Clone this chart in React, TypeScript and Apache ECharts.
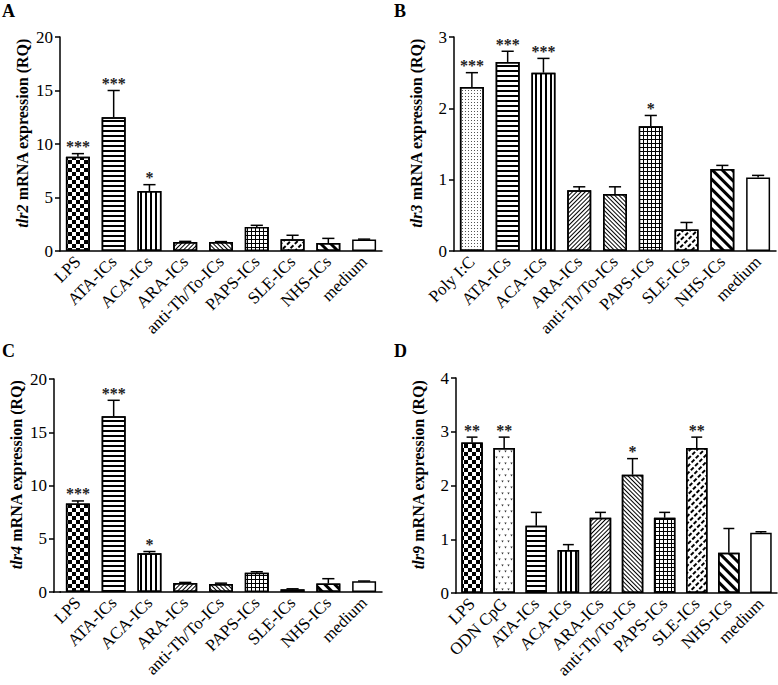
import React, { useEffect, useRef } from "react";
import * as echarts from "echarts";

const FONT = "'Liberation Serif', 'Times New Roman', serif";

// ---- Panel A: tlr2 ----
const catsA = ["LPS", "ATA-ICs", "ACA-ICs", "ARA-ICs", "anti-Th/To-ICs", "PAPS-ICs", "SLE-ICs", "NHS-ICs", "medium"];
const meanA = [8.8, 12.5, 5.6, 0.85, 0.85, 2.25, 1.1, 0.75, 1.07];
const errA = [0.3, 2.5, 0.6, 0.05, 0.03, 0.15, 0.37, 0.43, 0.04];
const starsA = ["***", "***", "*", "", "", "", "", "", ""];
const ticksA = { max: 20, interval: 5 };

// ---- Panel B: tlr3 ----
const catsB = ["Poly I:C", "ATA-ICs", "ACA-ICs", "ARA-ICs", "anti-Th/To-ICs", "PAPS-ICs", "SLE-ICs", "NHS-ICs", "medium"];
const meanB = [2.3, 2.65, 2.5, 0.85, 0.8, 1.75, 0.3, 1.15, 1.03];
const errB = [0.2, 0.15, 0.2, 0.05, 0.1, 0.15, 0.1, 0.05, 0.03];
const starsB = ["***", "***", "***", "", "", "*", "", "", ""];
const ticksB = { max: 3, interval: 1 };

// ---- Panel C: tlr4 ----
const catsC = ["LPS", "ATA-ICs", "ACA-ICs", "ARA-ICs", "anti-Th/To-ICs", "PAPS-ICs", "SLE-ICs", "NHS-ICs", "medium"];
const meanC = [8.3, 16.5, 3.65, 0.85, 0.75, 1.8, 0.25, 0.8, 1.0];
const errC = [0.25, 1.5, 0.15, 0.05, 0.08, 0.1, 0.05, 0.45, 0.03];
const starsC = ["***", "***", "*", "", "", "", "", "", ""];
const ticksC = { max: 20, interval: 5 };

// ---- Panel D: tlr9 ----
const catsD = ["LPS", "ODN CpG", "ATA-ICs", "ACA-ICs", "ARA-ICs", "anti-Th/To-ICs", "PAPS-ICs", "SLE-ICs", "NHS-ICs", "medium"];
const meanD = [2.8, 2.7, 1.25, 0.8, 1.4, 2.2, 1.4, 2.7, 0.75, 1.12];
const errD = [0.1, 0.2, 0.25, 0.1, 0.1, 0.3, 0.1, 0.2, 0.45, 0.02];
const starsD = ["**", "**", "", "", "", "*", "", "**", "", ""];
const ticksD = { max: 4, interval: 1 };

const genes = ["tlr2", "tlr3", "tlr4", "tlr9"];
const letters = ["A", "B", "C", "D"];

// bar fill colour + decal pattern for each treatment
const fills: Record<string, string> = { "PAPS-ICs": "#000" };
const decals: Record<string, any> = {
  "LPS": { symbol: "rect", symbolSize: 1, dashArrayX: [[3.5, 3.5], [0, 3.5, 3.5, 0]], dashArrayY: [3.5, 0], color: "#000", backgroundColor: "#fff" },
  "ATA-ICs": { symbol: "rect", symbolSize: 1, dashArrayX: [1, 0], dashArrayY: [1.5, 3], color: "#000", backgroundColor: "#fff" },
  "ACA-ICs": { symbol: "rect", symbolSize: 1, dashArrayX: [1.5, 2.5], dashArrayY: [1, 0], color: "#000", backgroundColor: "#fff" },
  "ARA-ICs": { symbol: "rect", symbolSize: 1, dashArrayX: [1, 0], dashArrayY: [1, 2], rotation: -Math.PI / 4, color: "#000", backgroundColor: "#fff" },
  "anti-Th/To-ICs": { symbol: "rect", symbolSize: 1, dashArrayX: [1, 0], dashArrayY: [1, 2], rotation: Math.PI / 4, color: "#000", backgroundColor: "#fff" },
  "PAPS-ICs": { symbol: "rect", symbolSize: 1, dashArrayX: [2.5, 1], dashArrayY: [2.5, 1], color: "#fff" },
  "SLE-ICs": { symbol: "rect", symbolSize: 1, dashArrayX: [4, 2], dashArrayY: [1.5, 3], rotation: -Math.PI / 4, color: "#000", backgroundColor: "#fff" },
  "NHS-ICs": { symbol: "rect", symbolSize: 1, dashArrayX: [1, 0], dashArrayY: [3, 4], rotation: Math.PI / 4, color: "#000", backgroundColor: "#fff" },
  "Poly I:C": { symbol: "rect", symbolSize: 1, dashArrayX: [1, 1.5], dashArrayY: [1, 1.5], color: "#555", backgroundColor: "#fff" },
  "ODN CpG": { symbol: "path://M0,0L10,0L5,8Z", symbolSize: 0.8, dashArrayX: [[3, 3], [0, 3, 3, 0]], dashArrayY: [3, 2.5], color: "#333", backgroundColor: "#fff" },
};

const grids = [
  { left: 60, top: 37, width: 322, height: 214 },
  { left: 454, top: 37, width: 322, height: 214 },
  { left: 60, top: 379, width: 322, height: 213 },
  { left: 456, top: 378, width: 321, height: 215 },
];
const yOffsets = [0, 0, 6, 0];
const letterPos = [[2, 2], [394, 2], [2, 342], [394, 342]];

export default function App() {
  const ref = useRef<HTMLDivElement>(null);
  useEffect(() => {
    document.body.style.margin = "0";
    const chart = echarts.init(ref.current!, null, { renderer: "svg" });
    const panels = [
      { cats: catsA, mean: meanA, err: errA, stars: starsA, ticks: ticksA },
      { cats: catsB, mean: meanB, err: errB, stars: starsB, ticks: ticksB },
      { cats: catsC, mean: meanC, err: errC, stars: starsC, ticks: ticksC },
      { cats: catsD, mean: meanD, err: errD, stars: starsD, ticks: ticksD },
    ];
    const xAxis: any[] = [];
    const yAxis: any[] = [];
    const series: any[] = [];
    panels.forEach((p, k) => {
      xAxis.push({
        type: "category", gridIndex: k, data: p.cats,
        axisLine: { lineStyle: { color: "#000", width: 1.5 } },
        axisTick: { alignWithLabel: true, length: 5, lineStyle: { color: "#000", width: 1.5 } },
        axisLabel: { rotate: 45, interval: 0, fontFamily: FONT, fontSize: 17, color: "#000", margin: 8 },
      });
      yAxis.push({
        type: "value", gridIndex: k, min: 0, max: p.ticks.max, interval: p.ticks.interval,
        offset: yOffsets[k],
        splitLine: { show: false },
        axisLine: { show: true, lineStyle: { color: "#000", width: 1.5 } },
        axisTick: { show: true, length: 5, lineStyle: { color: "#000", width: 1.5 } },
        axisLabel: { fontFamily: FONT, fontSize: 17, color: "#000", margin: 7 },
        name: `{i|${genes[k]}} mRNA expression (RQ)`,
        nameLocation: "middle", nameGap: 30,
        nameTextStyle: {
          fontFamily: FONT, fontSize: 16, fontWeight: "bold", color: "#000",
          padding: [0, 0, 0, 22],
          rich: { i: { fontFamily: FONT, fontSize: 16, fontWeight: "bold", fontStyle: "italic", color: "#000" } },
        },
      });
      series.push({
        type: "bar", xAxisIndex: k, yAxisIndex: k, barWidth: "67%",
        data: p.mean.map((v, i) => ({
          value: v,
          itemStyle: { color: fills[p.cats[i]] || "#fff", borderColor: "#000", borderWidth: 1.5, decal: decals[p.cats[i]] || undefined },
        })),
      });
      series.push({
        type: "custom", xAxisIndex: k, yAxisIndex: k, z: 5,
        data: p.mean.map((v, i) => [i, v, v + p.err[i]]),
        renderItem: (params: any, api: any) => {
          const i = api.value(0);
          const lo = api.coord([i, api.value(1)]);
          const hi = api.coord([i, api.value(2)]);
          const band = api.size([1, 0])[0];
          const cap = band * 0.17;
          const children: any[] = [
            { type: "line", shape: { x1: lo[0], y1: lo[1], x2: hi[0], y2: hi[1] }, style: { stroke: "#000", lineWidth: 1.5 } },
            { type: "line", shape: { x1: hi[0] - cap, y1: hi[1], x2: hi[0] + cap, y2: hi[1] }, style: { stroke: "#000", lineWidth: 1.5 } },
          ];
          const s = p.stars[params.dataIndex];
          if (s) {
            children.push({
              type: "text", x: hi[0], y: hi[1] + 1,
              style: { text: s, align: "center", verticalAlign: "bottom", font: `bold 16px ${FONT}`, fill: "#222" },
            });
          }
          return { type: "group", children };
        },
      });
    });
    const graphic: any[] = letters.map((l, k) => ({
      type: "text", x: letterPos[k][0], y: letterPos[k][1],
      style: { text: l, font: `bold 18px ${FONT}`, fill: "#000" },
    }));
    // extend panel C x-axis line to the offset y-axis
    graphic.push({ type: "line", shape: { x1: 53, y1: 592, x2: 61, y2: 592 }, style: { stroke: "#000", lineWidth: 1.5 } });
    chart.setOption({
      animation: false,
      grid: grids,
      xAxis, yAxis, series, graphic,
    });
    return () => chart.dispose();
  }, []);
  return <div ref={ref} style={{ width: 778, height: 685 }} />;
}
